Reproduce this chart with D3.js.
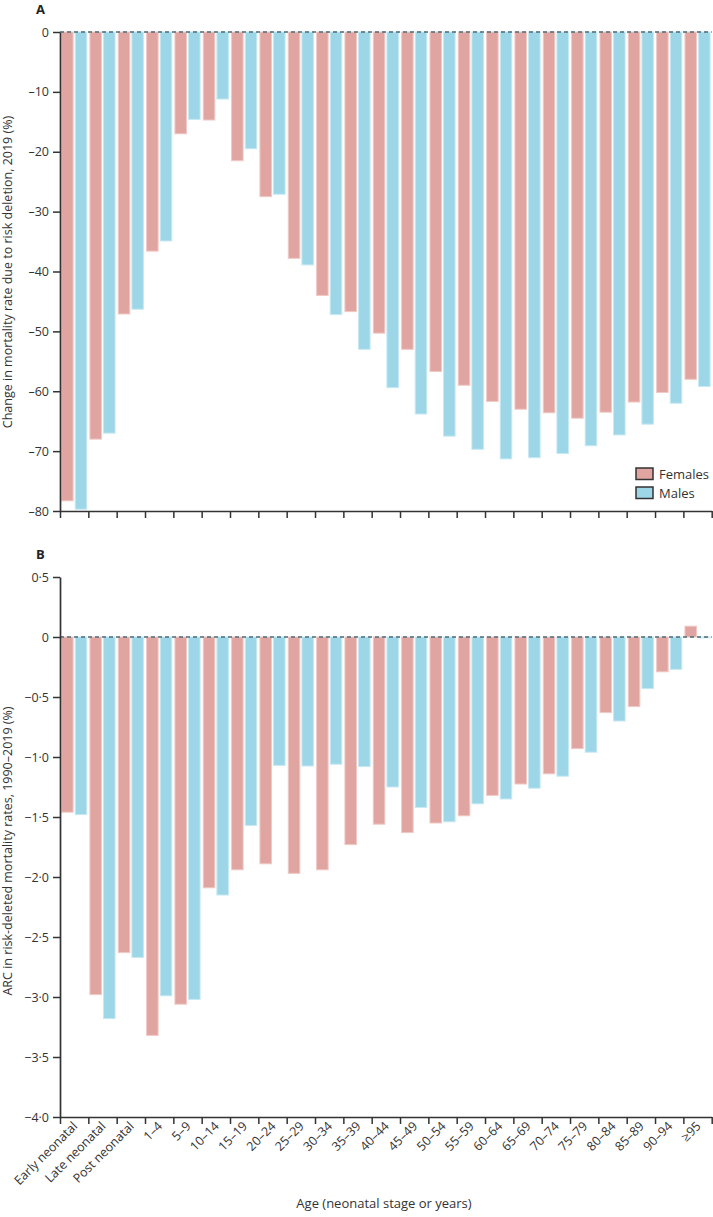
<!DOCTYPE html>
<html><head><meta charset="utf-8">
<script src="https://cdn.jsdelivr.net/npm/d3@7/dist/d3.min.js"></script>
<style>
body{margin:0;background:#fff;}
svg{display:block;font-family:"Open Sans",Lato,sans-serif;}
</style></head>
<body><svg id="chart" width="713" height="1217"></svg>
<script>
const categories = ["Early neonatal","Late neonatal","Post neonatal","1–4","5–9","10–14","15–19","20–24","25–29","30–34","35–39","40–44","45–49","50–54","55–59","60–64","65–69","70–74","75–79","80–84","85–89","90–94","≥95"];
const seriesNames = ["Females","Males"];
// Panel A: change in mortality rate due to risk deletion, 2019 (%)
const aFemales = [-78.3,-68.0,-47.1,-36.6,-17.0,-14.7,-21.5,-27.5,-37.8,-44.0,-46.7,-50.3,-53.0,-56.7,-59.0,-61.7,-63.0,-63.6,-64.5,-63.5,-61.8,-60.2,-58.0];
const aMales   = [-79.7,-67.0,-46.3,-34.9,-14.6,-11.2,-19.5,-27.1,-38.9,-47.2,-53.0,-59.4,-63.8,-67.5,-69.7,-71.3,-71.1,-70.4,-69.1,-67.3,-65.5,-62.0,-59.2];
// Panel B: ARC in risk-deleted mortality rates, 1990-2019 (%)
const bFemales = [-1.46,-2.98,-2.63,-3.32,-3.06,-2.09,-1.94,-1.89,-1.97,-1.94,-1.73,-1.56,-1.63,-1.55,-1.49,-1.32,-1.225,-1.14,-0.93,-0.63,-0.58,-0.29,0.09];
const bMales   = [-1.48,-3.18,-2.67,-2.99,-3.02,-2.15,-1.57,-1.07,-1.075,-1.06,-1.08,-1.25,-1.42,-1.54,-1.39,-1.35,-1.26,-1.16,-0.96,-0.70,-0.43,-0.27,-0.006];
const aTicks = [0,-10,-20,-30,-40,-50,-60,-70,-80];
const bTicks = [0.5,0,-0.5,-1.0,-1.5,-2.0,-2.5,-3.0,-3.5,-4.0];

const fillC = {Females:"#e0a5a1", Males:"#9dd6e7"};
const edgeC = {Females:"#f0c9c6", Males:"#c6e9f3"};
const axisC = "#333";
const svg = d3.select("#chart");

const X0 = 60, X1 = 711.7;
const x0 = d3.scaleBand().domain(categories).range([X0, X1]).paddingInner(0).paddingOuter(0);
const x1 = d3.scaleBand().domain(seriesNames).range([0, x0.bandwidth()]).paddingInner(0.08).paddingOuter(0.08);
const xIdx = d3.scaleLinear().domain([0, categories.length]).range([X0, X1]);

function fmtDash(s){ return s.replace("-", "–"); }

function panel(opts){
  const g = svg.append("g");
  const y = d3.scaleLinear().domain(opts.domain).range(opts.range);
  const rows = categories.map((c,i)=>({cat:c, vals:[{s:"Females", v:opts.f[i]},{s:"Males", v:opts.m[i]}]}));
  const grp = g.selectAll("g.cat").data(rows).join("g").attr("class","cat")
    .attr("transform", d=>`translate(${x0(d.cat)},0)`);
  grp.selectAll("rect").data(d=>d.vals).join("rect")
    .attr("x", d=>x1(d.s)+0.5)
    .attr("width", x1.bandwidth()-1)
    .attr("y", d=>Math.min(y(d.v), y(0)))
    .attr("height", d=>Math.max(0.8, Math.abs(y(d.v)-y(0))))
    .attr("fill", d=>fillC[d.s])
    .attr("stroke", d=>edgeC[d.s])
    .attr("stroke-width", 1);
  g.append("line").attr("x1", X0).attr("x2", X1).attr("y1", y(0)).attr("y2", y(0))
    .attr("stroke", "#4b6b76").attr("stroke-width", 1.6).attr("stroke-dasharray", "4,3");
  const ya = g.append("g").attr("transform", `translate(${X0},0)`)
    .call(d3.axisLeft(y).tickValues(opts.ticks).tickSize(7).tickSizeOuter(0).tickFormat(opts.fmt));
  ya.select(".domain").attr("stroke", axisC).attr("stroke-width", 1.7);
  ya.selectAll(".tick line").attr("stroke", axisC).attr("stroke-width", 1.5);
  ya.selectAll(".tick text").attr("font-size", 12.5).attr("fill", "#333").attr("x", -11)
    .attr("font-family", "'Open Sans', sans-serif");
  const yb = opts.range[0];
  const xa = g.append("g").attr("transform", `translate(0,${yb})`)
    .call(d3.axisBottom(xIdx).tickValues(d3.range(categories.length+1)).tickSize(7).tickSizeOuter(0).tickFormat(""));
  xa.select(".domain").attr("stroke", axisC).attr("stroke-width", 1.7);
  xa.selectAll(".tick line").attr("stroke", axisC).attr("stroke-width", 1.5);
  g.append("text").attr("x", 36).attr("y", opts.letterY).text(opts.letter)
    .attr("font-size", 13).attr("font-weight", "bold").attr("fill", "#222");
  g.append("text").attr("transform", `translate(12,${opts.titleY}) rotate(-90)`)
    .attr("text-anchor", "middle").attr("font-size", 12.5).attr("fill", "#333").text(opts.title);
  return {g, y};
}

panel({domain:[-80,0], range:[511,32], f:aFemales, m:aMales, ticks:aTicks,
  fmt:d=>fmtDash(String(d)), letter:"A", letterY:14, title:"Change in mortality rate due to risk deletion, 2019 (%)", titleY:272});
panel({domain:[-4,0.5], range:[1117,577], f:bFemales, m:bMales, ticks:bTicks,
  fmt:d=>d===0?"0":fmtDash(d3.format(".1f")(d).replace(".", "·")), letter:"B", letterY:559, title:"ARC in risk-deleted mortality rates, 1990–2019 (%)", titleY:851});

svg.append("g").selectAll("text").data(categories).join("text")
  .attr("transform", d=>`translate(${x0(d)+x0.bandwidth()/2+4},${1127}) rotate(-45)`)
  .attr("text-anchor", "end").attr("font-size", 12.5).attr("fill", "#333")
  .text(d=>d);
svg.append("text").attr("x", 384).attr("y", 1208).attr("text-anchor", "middle")
  .attr("font-size", 13).attr("fill", "#333").text("Age (neonatal stage or years)");

const leg = svg.append("g").attr("transform", "translate(636,468)");
seriesNames.forEach((s,i)=>{
  const r = leg.append("g").attr("transform", `translate(0,${i*19})`);
  r.append("rect").attr("width", 17).attr("height", 11.5).attr("fill", fillC[s]).attr("stroke", "#333").attr("stroke-width", 1.5);
  r.append("text").attr("x", 23).attr("y", 11).attr("font-size", 13).attr("fill", "#333").text(s);
});
</script></body></html>
